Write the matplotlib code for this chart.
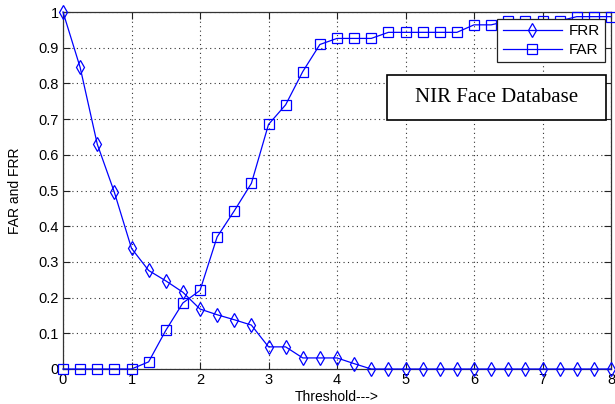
import numpy as np
import matplotlib
matplotlib.use("Agg")
import matplotlib.pyplot as plt
from matplotlib.patches import Rectangle

threshold = [i * 0.25 for i in range(33)]
frr = [1.0, 0.845, 0.63, 0.495, 0.338, 0.276, 0.247, 0.215, 0.168, 0.152, 0.138,
       0.123, 0.062, 0.062, 0.031, 0.031, 0.031, 0.015, 0, 0, 0, 0, 0, 0, 0, 0,
       0, 0, 0, 0, 0, 0, 0]
far = [0, 0, 0, 0, 0, 0.02, 0.108, 0.185, 0.22, 0.37, 0.443, 0.52, 0.685, 0.74,
       0.833, 0.909, 0.926, 0.926, 0.926, 0.943, 0.943, 0.943, 0.943, 0.943,
       0.964, 0.964, 0.975, 0.975, 0.975, 0.975, 0.987, 0.987, 0.987]
xticks = [0, 1, 2, 3, 4, 5, 6, 7, 8]
yticks = [0, 0.1, 0.2, 0.3, 0.4, 0.5, 0.6, 0.7, 0.8, 0.9, 1]
yticklabels = ["0", "0.1", "0.2", "0.3", "0.4", "0.5", "0.6", "0.7", "0.8", "0.9", "1"]

plt.rcParams['font.family'] = ['Liberation Sans', 'DejaVu Sans']

fig = plt.figure(figsize=(6.15, 4.04), dpi=100)
ax = fig.add_axes([63/615, 35/404, 548/615, 357/404])

blue = (0, 0, 1)
ax.plot(threshold, frr, color=blue, lw=0.9, marker='d', ms=7.5, mfc='none',
        mec=blue, mew=0.9, label='FRR', clip_on=False, zorder=3)
ax.plot(threshold, far, color=blue, lw=0.9, marker='s', ms=7.2, mfc='none',
        mec=blue, mew=0.9, label='FAR', clip_on=False, zorder=3)

ax.set_xlim(0, 8)
ax.set_ylim(0, 1)
ax.set_xticks(xticks)
ax.set_yticks(yticks)
ax.set_yticklabels(yticklabels)
ax.tick_params(direction='in', length=5, top=True, right=True, labelsize=10.5,
               colors='#222222', labelcolor='black', pad=3)
ax.grid(True, linestyle=(0, (1, 3)), color='#333333', lw=0.8)
for s in ax.spines.values():
    s.set_color('#333333')
    s.set_linewidth(0.9)

ax.set_xlabel('Threshold--->', fontsize=10, labelpad=2)
ax.set_ylabel('FAR and FRR', fontsize=10, labelpad=12)

leg = ax.legend(loc='upper right', bbox_to_anchor=(0.989, 0.980), fontsize=11,
                fancybox=False, framealpha=1, edgecolor='#222222',
                handlelength=3.9, borderpad=0.35, labelspacing=0.3,
                handletextpad=0.4, borderaxespad=0)
leg.get_frame().set_linewidth(0.9)
leg.set_zorder(5)

rect = Rectangle(((387-63)/548, (369-120)/357), 219/548, 45/357,
                 transform=ax.transAxes, facecolor='white', edgecolor='black',
                 lw=1.2, zorder=6)
ax.add_patch(rect)
ax.text((497-63)/548, (369-97)/357, 'NIR Face Database', transform=ax.transAxes,
        ha='center', va='center', fontsize=15, family='Liberation Serif',
        zorder=7)

fig.savefig('out.png', dpi=100)
